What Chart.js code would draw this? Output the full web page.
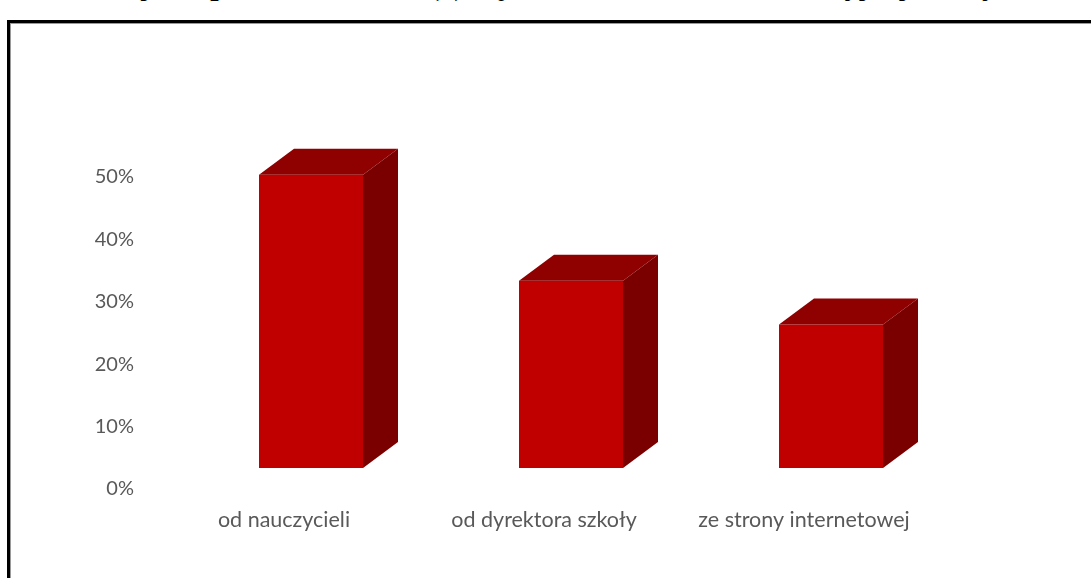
<!DOCTYPE html>
<html>
<head>
<meta charset="utf-8">
<script src="https://cdn.jsdelivr.net/npm/chart.js@4.4.1/dist/chart.umd.min.js"></script>
<style>
  html, body { margin: 0; padding: 0; background: #fff; overflow: hidden; }
  #title {
    position: absolute; left: 104px; top: -32px; white-space: nowrap;
    font: bold 30px "Liberation Serif", "DejaVu Serif", serif; color: #000;
  }
  #frame {
    position: absolute; left: 7px; top: 20px; width: 1200px; height: 700px;
    border-left: 3px solid #000; border-top: 3px solid #000;
    box-shadow: inset 1px 1px 0 #9a9a9a; background: #fff;
  }
  #wrap { position: absolute; left: 0; top: 0; width: 1091px; height: 578px; }
</style>
</head>
<body>
<div id="title">W jaki sposób dowiedział(a) się Pan/Pani o ofercie edukacyjnej szkoły?</div>
<div id="frame"></div>
<div id="wrap"><canvas id="chart" width="1091" height="578"></canvas></div>
<script>
const categories = ["od nauczycieli", "od dyrektora szkoły", "ze strony internetowej"];
const values = [47, 30, 23];
const yTicks = [0, 10, 20, 30, 40, 50];

// simple 3D look: top and side faces drawn next to each bar
const bars3d = {
    id: "bars3d",
    afterDatasetsDraw(chart) {
        const ctx = chart.ctx;
        const dx = 35, dy = -26;
        chart.getDatasetMeta(0).data.forEach(function (bar) {
            const p = bar.getProps(["x", "y", "base", "width"], true);
            const l = p.x - p.width / 2, r = p.x + p.width / 2;
            ctx.save();
            ctx.fillStyle = "#8f0000";
            ctx.beginPath();
            ctx.moveTo(l, p.y);
            ctx.lineTo(r, p.y);
            ctx.lineTo(r + dx, p.y + dy);
            ctx.lineTo(l + dx, p.y + dy);
            ctx.closePath();
            ctx.fill();
            ctx.fillStyle = "#7a0000";
            ctx.beginPath();
            ctx.moveTo(r, p.y);
            ctx.lineTo(r + dx, p.y + dy);
            ctx.lineTo(r + dx, p.base + dy);
            ctx.lineTo(r, p.base);
            ctx.closePath();
            ctx.fill();
            ctx.restore();
        });
    }
};

new Chart(document.getElementById("chart"), {
    type: "bar",
    data: {
        labels: categories,
        datasets: [{
            data: values,
            backgroundColor: "#c00000",
            borderWidth: 0,
            categoryPercentage: 1,
            barPercentage: 0.4
        }]
    },
    options: {
        responsive: false,
        animation: false,
        layout: { padding: { top: 156, right: 130, bottom: 46, left: 0 } },
        plugins: { legend: { display: false }, tooltip: { enabled: false } },
        scales: {
            x: {
                grid: { display: false, drawTicks: false },
                border: { display: false },
                ticks: {
                    color: "#595959", padding: 39, labelOffset: -27, maxRotation: 0,
                    font: { family: "Lato", size: 21.5 }
                },
                afterFit(scale) { scale.height = 64; }
            },
            y: {
                min: 0, max: 50,
                grid: { display: false, drawTicks: false },
                border: { display: false },
                afterBuildTicks(scale) { scale.ticks = yTicks.map(v => ({ value: v })); },
                ticks: {
                    color: "#595959", padding: 47, labelOffset: 21,
                    font: { family: "Lato", size: 20 },
                    callback: v => v + "%"
                },
                afterFit(scale) { scale.width = 181; }
            }
        }
    },
    plugins: [bars3d]
});
</script>
</body>
</html>
